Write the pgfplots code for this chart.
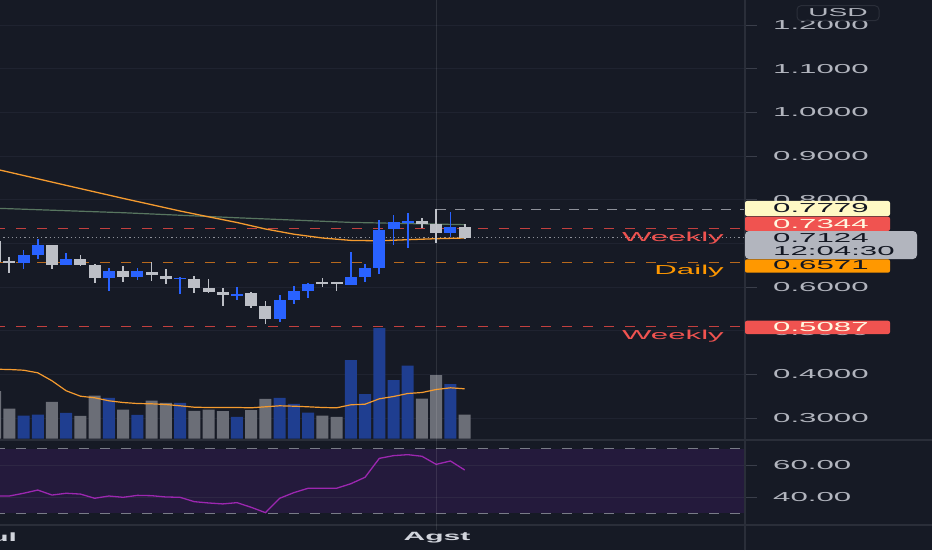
\documentclass[border=0pt]{standalone}
\usepackage{pgfplots}
\pgfplotsset{compat=1.18}
\usepackage{pgfplotstable}
\usepackage{fontspec}
\setmainfont{Liberation Sans}
\definecolor{bg}{HTML}{161A25}
\definecolor{gridc}{HTML}{1F2330}
\definecolor{sepc}{HTML}{2A2E39}
\definecolor{tickc}{HTML}{3A3E4A}
\definecolor{axtext}{HTML}{B2B5BE}
\definecolor{cblue}{HTML}{2962FF}
\definecolor{cgray}{HTML}{BCBFC6}
\definecolor{vblue}{HTML}{1F3E90}
\definecolor{vgray}{HTML}{6B6E77}
\definecolor{maorange}{HTML}{F59B2F}
\definecolor{magreen}{HTML}{587660}
\definecolor{redl}{HTML}{C2403F}
\definecolor{orgl}{HTML}{B8691D}
\definecolor{grayl}{HTML}{8E919A}
\definecolor{rsiband}{HTML}{241A3C}
\definecolor{rsigrid}{HTML}{2E2744}
\definecolor{bandl}{HTML}{787B86}
\definecolor{rsic}{HTML}{9C27B0}
\definecolor{boxyel}{HTML}{FFF9C4}
\definecolor{boxred}{HTML}{F05350}
\definecolor{boxgray}{HTML}{B2B5BE}
\definecolor{boxorg}{HTML}{FF9800}
\definecolor{darktxt}{HTML}{131722}
\definecolor{creamtxt}{HTML}{FFF8E1}
\definecolor{timetxt}{HTML}{D1D4DC}
\newcommand{\wide}[1]{\scalebox{2.4}[1]{#1}}
\newcommand{\lab}{\fontsize{13}{13}\selectfont}

\pgfplotstableread{
i o h l c
1 0.6543 0.6847 0.6412 0.6733
2 0.6726 0.7092 0.6648 0.6955
4 0.6511 0.6785 0.6497 0.6641
7 0.6206 0.6442 0.5901 0.6373
9 0.6236 0.6442 0.6153 0.6366
12 0.6190 0.6236 0.5833 0.6213
16 0.5801 0.6007 0.5702 0.5847
19 0.5267 0.5824 0.5192 0.5702
20 0.5702 0.6023 0.5604 0.5915
21 0.5915 0.6085 0.5741 0.6076
24 0.6053 0.6795 0.6045 0.6222
25 0.6222 0.6520 0.6115 0.6435
26 0.6442 0.7534 0.6298 0.7305
27 0.7321 0.7649 0.6961 0.7481
28 0.7481 0.7688 0.6886 0.7500
31 0.7230 0.7724 0.7152 0.7367
}\bull
\pgfplotstableread{
i o h l c
-1 0.7060 0.7122 0.6550 0.6579
0 0.6585 0.6680 0.6314 0.6565
3 0.6955 0.6962 0.6412 0.6504
5 0.6641 0.6726 0.6481 0.6504
6 0.6511 0.6520 0.6099 0.6206
8 0.6366 0.6481 0.6115 0.6236
10 0.6350 0.6566 0.6144 0.6275
11 0.6252 0.6419 0.6069 0.6190
13 0.6190 0.6252 0.5856 0.5970
14 0.5977 0.6183 0.5856 0.5885
15 0.5885 0.5977 0.5565 0.5817
17 0.5856 0.5885 0.5512 0.5565
18 0.5565 0.5686 0.5153 0.5267
22 0.6108 0.6199 0.5993 0.6085
23 0.6103 0.6121 0.5901 0.6080
29 0.7504 0.7580 0.7351 0.7443
30 0.7443 0.7779 0.6996 0.7230
32 0.7367 0.7436 0.7099 0.7124
}\bear
\pgfplotstableread{
i v
1 23
2 24
4 25.7
7 40.7
9 23.7
12 35.7
16 21.7
19 40.7
20 34.7
21 26
24 78.3
25 44.3
26 110.3
27 58.3
28 73
31 54.3
}\vbull
\pgfplotstableread{
i v
-1 47.3
0 30
3 36.7
5 22.7
6 43
8 29
10 38
11 35.7
13 27.7
14 29
15 27.3
17 28.3
18 39.7
22 23
23 21.7
29 40
30 63.3
32 24
}\vbear
\pgfplotstableread{
i m
-1 69.3
0 69
1 68.3
2 65.7
3 57.7
4 47.7
5 42.3
6 40.7
7 37.7
8 36
9 35
10 34.7
11 34
12 32.7
13 31.3
14 31
15 31
16 31
17 30.7
18 31.7
19 32.7
20 32.3
21 31.7
22 31
23 30.7
24 33.7
25 34.3
26 39.7
27 42
28 45
29 46
30 49
31 50.7
32 49.7
}\vma
\pgfplotstableread{
i r
-1 40.8
0 40.8
1 42.5
2 44.5
3 41.4
4 42.5
5 42.0
6 39.4
7 40.8
8 40.0
9 41.2
10 41.0
11 40.2
12 40.0
13 37.3
14 36.5
15 35.9
16 36.7
17 33.8
18 30.5
19 39.4
20 42.9
21 45.6
22 45.6
23 45.6
24 48.4
25 52.4
26 64.1
27 65.8
28 66.4
29 65.4
30 60.4
31 62.5
32 56.9
}\rsi

\pgfplotsset{
  candle/.style 2 args={draw=none, mark=none, forget plot,
    error bars/.cd, y dir=both, y explicit, error mark=none,
    error bar style={draw=#1, solid, line width=#2}},
}

\begin{document}
\begin{tikzpicture}[x=1pt,y=1pt]
\fill[bg] (0,0) rectangle (932,550);

% ---------- price pane ----------
\begin{axis}[
  at={(0pt,110pt)}, anchor=south west,
  width=745pt, height=440pt, scale only axis,
  xmin=-0.6535, xmax=51.70, ymin=0.2496, ymax=1.2572,
  axis line style={draw=none},
  xtick=\empty,
  ytick={0.3,0.4,0.5,0.6,0.7,0.8,0.9,1.0,1.1,1.2},
  yticklabels={\wide{0.3000},\wide{0.4000},\wide{0.5000},\wide{0.6000},\wide{0.7000},\wide{0.8000},\wide{0.9000},\wide{1.0000},\wide{1.1000},\wide{1.2000}},
  ytick pos=right, yticklabel pos=right,
  tick align=outside, major tick length=12pt,
  tick style={draw=tickc, line width=0.8pt},
  yticklabel style={anchor=west, inner sep=0pt, xshift=16pt, font=\lab, text=axtext},
  ymajorgrids, grid style={draw=gridc, line width=0.8pt},
]
\addplot[draw=redl, line width=1.1pt, dash pattern=on 10pt off 11pt] coordinates {(-1,0.7344) (52,0.7344)};
\addplot[draw=orgl, line width=1.1pt, dash pattern=on 10pt off 11pt] coordinates {(-1,0.6571) (52,0.6571)};
\addplot[draw=redl, line width=1.1pt, dash pattern=on 10pt off 11pt] coordinates {(-1,0.5087) (52,0.5087)};
\addplot[draw=grayl, line width=1.1pt, dash pattern=on 10pt off 9pt] coordinates {(30,0.7779) (52,0.7779)};
\addplot[draw=grayl, line width=1pt, dash pattern=on 1.2pt off 3pt] coordinates {(-1,0.7124) (52,0.7124)};
\addplot[draw=magreen, line width=1.2pt] coordinates {(-1,0.7804) (8,0.7701) (16,0.7585) (24,0.7479) (32,0.7427)};
\addplot[draw=maorange, line width=1.3pt] coordinates {(-1,0.8702) (0,0.8629) (2,0.8478) (4,0.8327) (6,0.8178) (8,0.8029) (10,0.7885) (12,0.7740) (14,0.7607) (16,0.7477) (18,0.7328) (20,0.7209) (22,0.7122) (24,0.7067) (26,0.7058) (28,0.7083) (30,0.7106) (32,0.7122)};
% wicks
\addplot[candle={cblue}{1.7pt}]
  table[x=i, y expr={(\thisrow{h}+\thisrow{l})/2}, y error expr={(\thisrow{h}-\thisrow{l})/2}] {\bull};
\addplot[candle={cgray}{1.7pt}]
  table[x=i, y expr={(\thisrow{h}+\thisrow{l})/2}, y error expr={(\thisrow{h}-\thisrow{l})/2}] {\bear};
% bodies
\addplot[candle={cblue}{12pt}]
  table[x=i, y expr={(\thisrow{o}+\thisrow{c})/2}, y error expr={abs(\thisrow{c}-\thisrow{o})/2}] {\bull};
\addplot[candle={cgray}{12pt}]
  table[x=i, y expr={(\thisrow{o}+\thisrow{c})/2}, y error expr={abs(\thisrow{c}-\thisrow{o})/2}] {\bear};
\end{axis}

% ---------- volume overlay ----------
\begin{axis}[
  at={(0pt,110pt)}, anchor=south west,
  width=745pt, height=440pt, scale only axis,
  xmin=-0.6535, xmax=51.70, ymin=-1.5, ymax=438.5,
  hide axis,
]
\addplot[ybar, bar width=12pt, bar shift=0pt, fill=vblue, draw=none] table[x=i, y=v] {\vbull};
\addplot[ybar, bar width=12pt, bar shift=0pt, fill=vgray, draw=none] table[x=i, y=v] {\vbear};
\addplot[draw=maorange, line width=1.2pt] table[x=i, y=m] {\vma};
\end{axis}

% ---------- RSI pane ----------
\begin{axis}[
  at={(0pt,25pt)}, anchor=south west,
  width=745pt, height=85pt, scale only axis,
  xmin=-0.6535, xmax=51.70, ymin=22.85, ymax=75.48,
  axis line style={draw=none},
  xtick=\empty,
  ytick={40,60},
  yticklabels={\wide{40.00},\wide{60.00}},
  ytick pos=right, yticklabel pos=right,
  tick align=outside, major tick length=12pt,
  tick style={draw=tickc, line width=0.8pt},
  yticklabel style={anchor=west, inner sep=0pt, xshift=16pt, font=\lab, text=axtext},
]
\addplot[draw=none, fill=rsiband] coordinates {(-1,30) (-1,70) (52,70) (52,30)};
\addplot[draw=rsigrid, line width=0.8pt] coordinates {(-1,40) (52,40)};
\addplot[draw=rsigrid, line width=0.8pt] coordinates {(-1,60) (52,60)};
\addplot[draw=bandl, line width=1.1pt, dash pattern=on 10pt off 11pt] coordinates {(-1,70) (52,70)};
\addplot[draw=bandl, line width=1.1pt, dash pattern=on 10pt off 11pt] coordinates {(-1,30) (52,30)};
\addplot[draw=rsic, line width=1.3pt] table[x=i, y=r] {\rsi};
\end{axis}

% ---------- separators ----------
\draw[sepc, line width=1.5pt] (0,110) -- (932,110);
\draw[sepc, line width=1.5pt] (0,25) -- (932,25);
\draw[sepc, line width=1.5pt] (745,0) -- (745,550);
\draw[white, opacity=0.1, line width=1.2pt] (436.5,20) -- (436.5,550);

% ---------- price labels ----------
\fill[boxyel, rounded corners=2pt] (745,334) rectangle (890,349);
\node[anchor=west, inner sep=0pt, text=darktxt, font=\lab] at (773,341.5) {\wide{0.7779}};
\fill[boxred, rounded corners=2pt] (745,319) rectangle (890,333.3);
\node[anchor=west, inner sep=0pt, text=creamtxt, font=\lab] at (773,326) {\wide{0.7344}};
\fill[boxgray, rounded corners=4pt] (745,291) rectangle (917,319);
\node[anchor=west, inner sep=0pt, text=darktxt, font=\lab] at (773,311.7) {\wide{0.7124}};
\node[anchor=west, inner sep=0pt, text=darktxt, font=\lab] at (773,299.3) {\wide{12:04:30}};
\fill[boxorg, rounded corners=2pt] (745,277.3) rectangle (890,290.7);
\node[anchor=west, inner sep=0pt, text=darktxt, font=\lab] at (773,284.5) {\wide{0.6571}};
\fill[boxred, rounded corners=2pt] (745,216) rectangle (890,229.3);
\node[anchor=west, inner sep=0pt, text=creamtxt, font=\lab] at (773,222.7) {\wide{0.5087}};

\node[anchor=east, inner sep=0pt, text=boxred, font=\lab] at (724,312.3) {\wide{Weekly}};
\node[anchor=east, inner sep=0pt, text=boxorg, font=\lab] at (724,279) {\wide{Daily}};
\node[anchor=east, inner sep=0pt, text=boxred, font=\lab] at (724,214.3) {\wide{Weekly}};

% USD badge
\draw[draw=sepc, line width=1pt, rounded corners=4pt] (797,529.3) rectangle (879,544.3);
\node[inner sep=0pt, text=axtext, font=\fontsize{11.5}{11.5}\selectfont] at (838,537) {\scalebox{2.45}[1]{USD}};

% time axis
\node[inner sep=0pt, text=timetxt, font=\fontsize{12}{12}\selectfont\bfseries] at (437,12.5) {\scalebox{2.5}[1]{Agst}};
\node[inner sep=0pt, text=timetxt, font=\fontsize{12}{12}\selectfont\bfseries] at (-4.6,12.5) {\scalebox{2.5}[1]{Jul}};

\pgfresetboundingbox
\path[use as bounding box] (0,0) rectangle (932,550);
\end{tikzpicture}
\end{document}
